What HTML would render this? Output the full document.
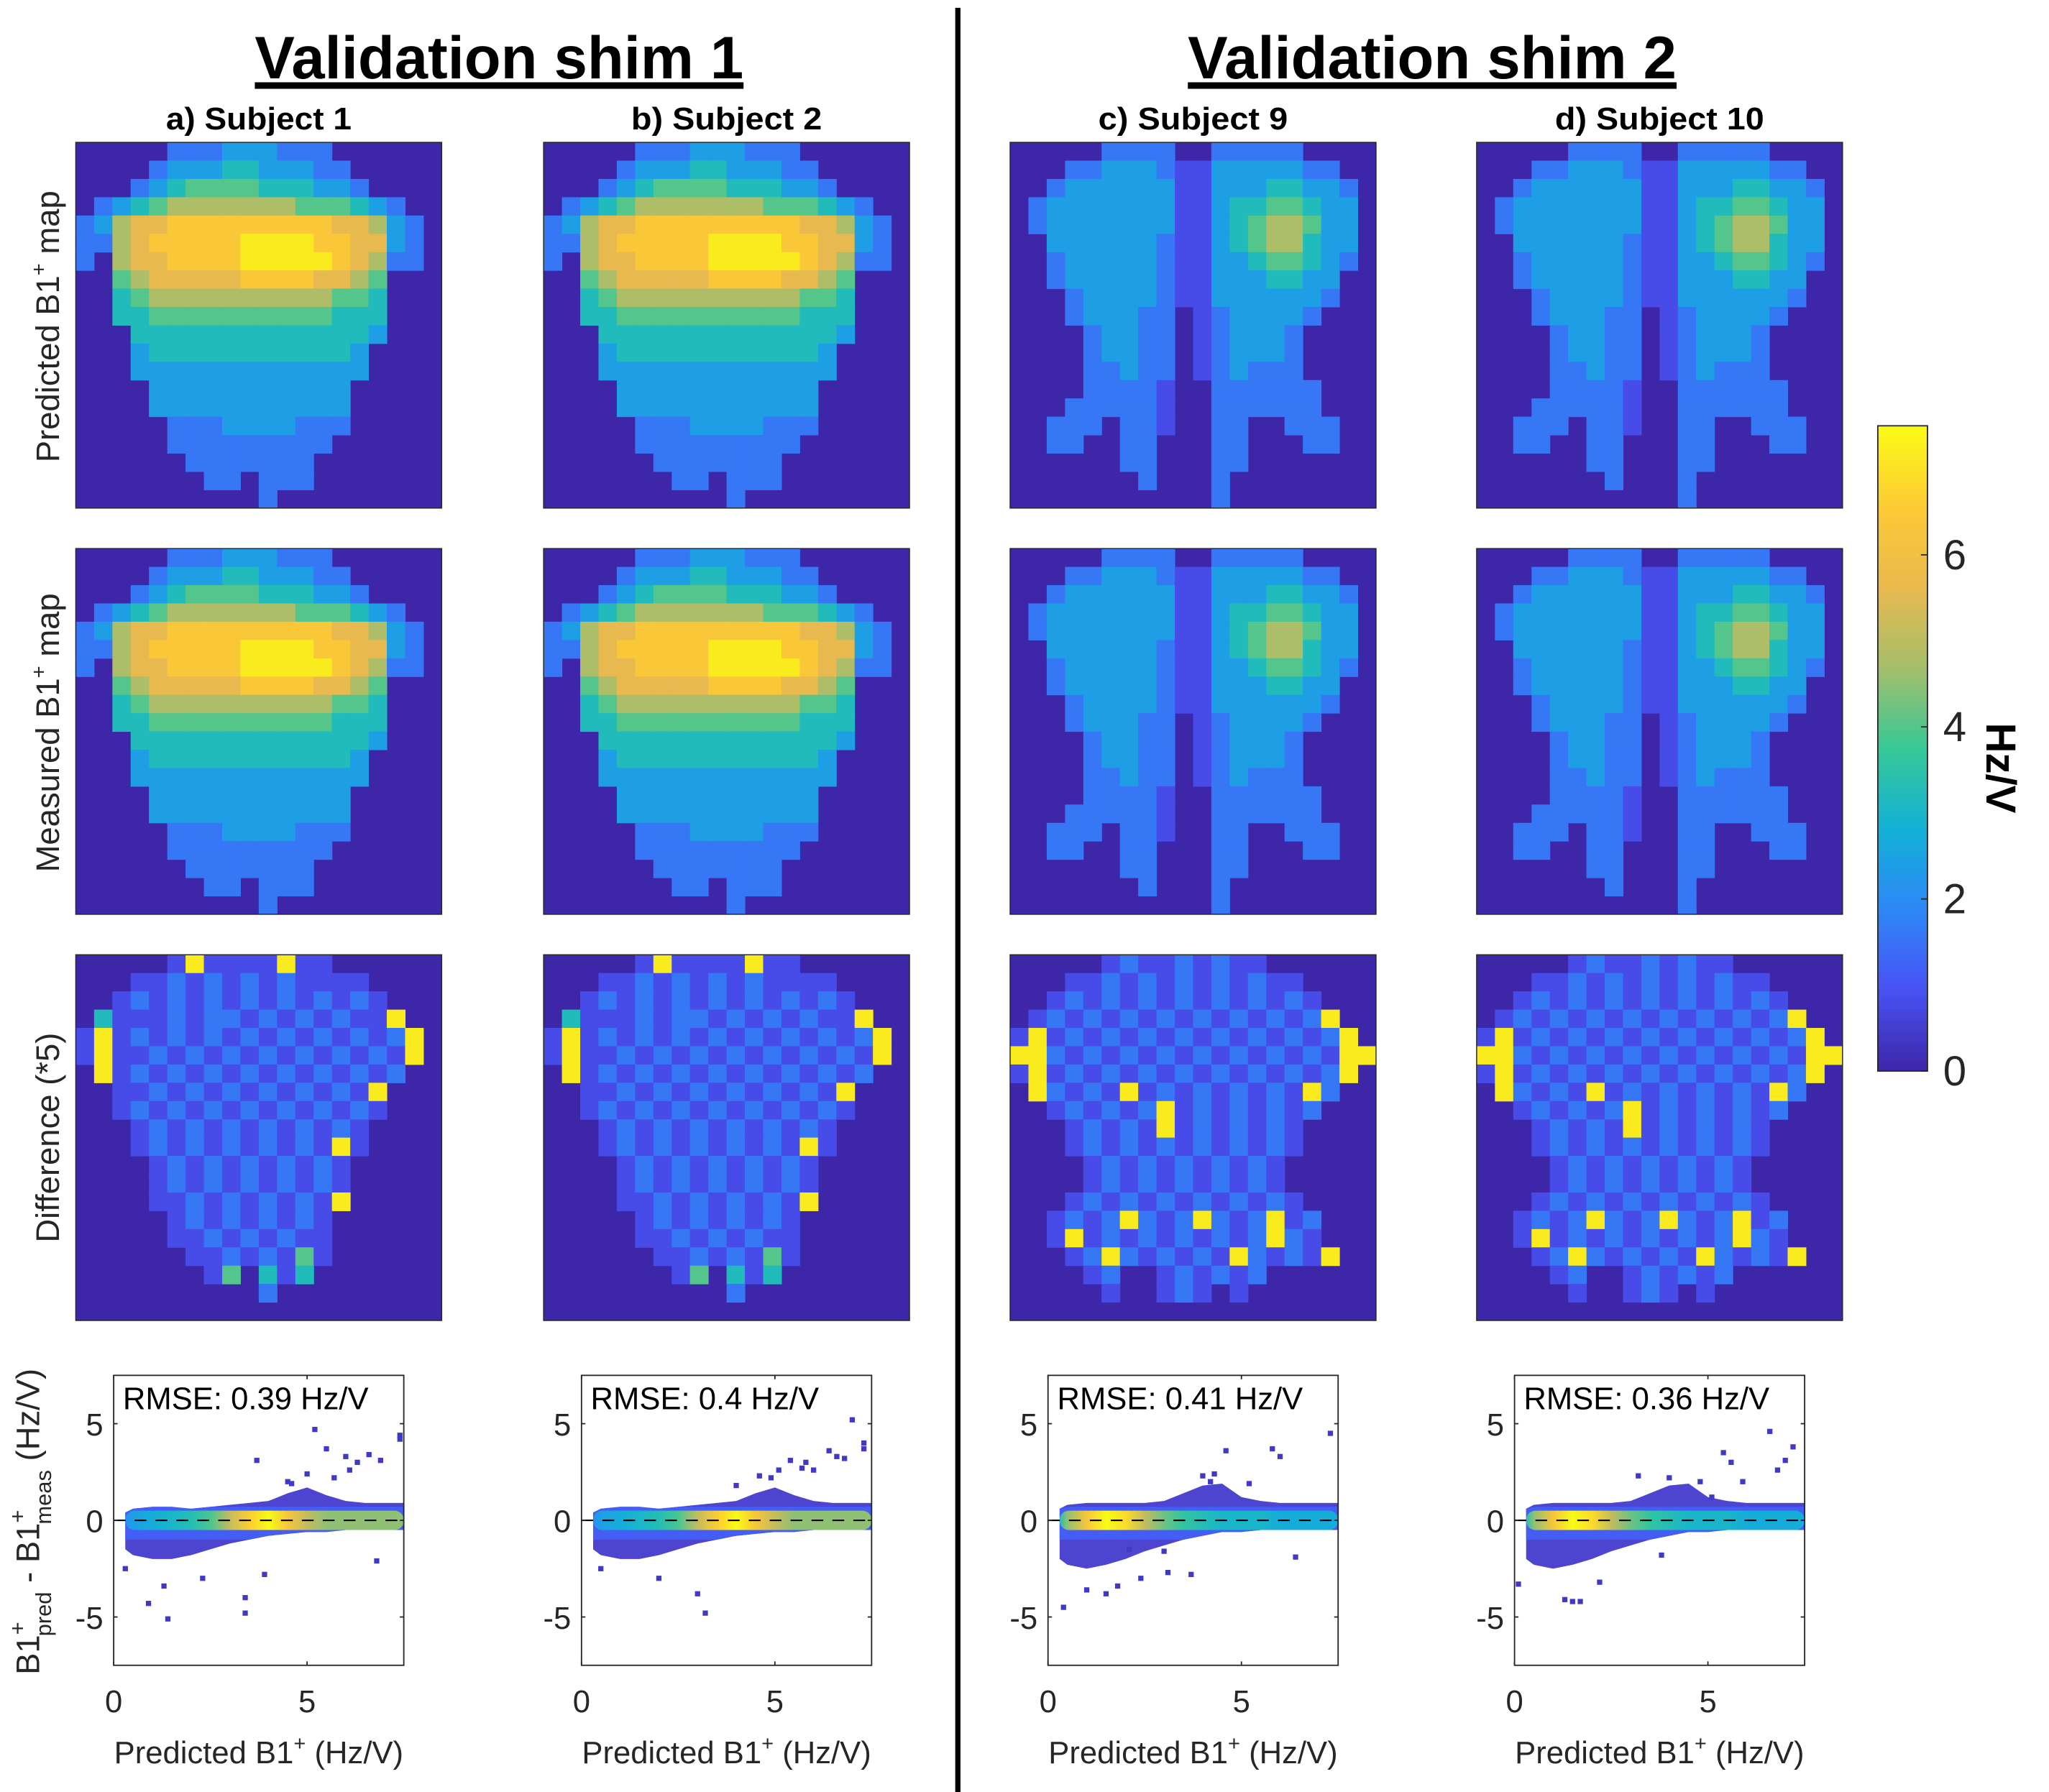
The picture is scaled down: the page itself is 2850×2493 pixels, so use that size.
<!DOCTYPE html>
<html><head><meta charset="utf-8"><style>
html,body{margin:0;padding:0;background:#fff;}
svg{display:block;}
text{font-family:"Liberation Sans",sans-serif;}
</style></head><body>
<svg id="fig" xmlns="http://www.w3.org/2000/svg" width="2850" height="2493" viewBox="0 0 1568 1372" preserveAspectRatio="none">
<rect x="0" y="0" width="1568" height="1372" fill="#fff"/>
<g>
<text x="382" y="60" text-anchor="middle" font-size="46" font-weight="bold" textLength="374" lengthAdjust="spacingAndGlyphs">Validation shim 1</text>
<rect x="195" y="63" width="374" height="5" fill="#000"/></g>
<g>
<text x="1096" y="60" text-anchor="middle" font-size="46" font-weight="bold" textLength="374" lengthAdjust="spacingAndGlyphs">Validation shim 2</text>
<rect x="909" y="63" width="374" height="5" fill="#000"/></g>
<rect x="731" y="6" width="4" height="1366" fill="#000"/>
<text x="198" y="99" text-anchor="middle" font-size="24" font-weight="bold" textLength="142" lengthAdjust="spacingAndGlyphs">a) Subject 1</text>
<text x="556" y="99" text-anchor="middle" font-size="24" font-weight="bold" textLength="146" lengthAdjust="spacingAndGlyphs">b) Subject 2</text>
<text x="913" y="99" text-anchor="middle" font-size="24" font-weight="bold" textLength="145" lengthAdjust="spacingAndGlyphs">c) Subject 9</text>
<text x="1270" y="99" text-anchor="middle" font-size="24" font-weight="bold" textLength="160" lengthAdjust="spacingAndGlyphs">d) Subject 10</text>
<text transform="translate(45,250) rotate(-90)" text-anchor="middle" font-size="25" fill="#262626">Predicted B1<tspan dy="-10" font-size="16">+</tspan><tspan dy="10"> map</tspan></text>
<text transform="translate(45,561) rotate(-90)" text-anchor="middle" font-size="25" fill="#262626">Measured B1<tspan dy="-10" font-size="16">+</tspan><tspan dy="10"> map</tspan></text>
<text transform="translate(45,871) rotate(-90)" text-anchor="middle" font-size="25" fill="#262626">Difference (*5)</text>
<text transform="translate(30,1165) rotate(-90)" text-anchor="middle" font-size="25" fill="#262626">B1<tspan dy="-11" font-size="17">+</tspan><tspan dy="20" dx="-11" font-size="17">pred</tspan><tspan dy="-9"> - B1</tspan><tspan dy="-11" font-size="17">+</tspan><tspan dy="20" dx="-11" font-size="17">meas</tspan><tspan dy="-9"> (Hz/V)</tspan></text>
<g id="maps"></g>
<g id="scatters"></g>
<g id="cbar"></g>
</svg>
<script>
const NS="http://www.w3.org/2000/svg";
// ---- data ----
const colX=[58,416,773,1130];
const rowY=[109,420,731];
const cmapMax=7.5;
const colorbarTicks=[0,2,4,6];
const digitScale=0.8; // value per digit
const shim1Map=[
"00000222333222000000",
"00002333443332200000",
"00023455554443320000",
"02345666666655543200",
"23677888888888776320",
"22678888899998877320",
"20677888899999876220",
"00567777788887765000",
"00456666666666554000",
"00445555555555444000",
"00044444444444443000",
"00034444444444430000",
"00033333333333330000",
"00003333333333300000",
"00003333333333300000",
"00000222333322200000",
"00000222222222000000",
"00000022222220000000",
"00000002202220000000",
"00000000002000000000"];
const shim2Map=[
"00000222200222220000",
"00022333211333332200",
"00233333311333443320",
"02333333311344554330",
"02333333311345665330",
"00333333211345664330",
"00233333211334554320",
"00233333211333443300",
"00023333211333333200",
"00023332201233332000",
"00002332201233320000",
"00002332201233320000",
"00002232201232220000",
"00002222100222222000",
"00022222100222222000",
"00222022100220022200",
"00220022000220002200",
"00000022000220000000",
"00000002000200000000",
"00000000000200000000"];
const diff1Map=[
"00000191111911000000",
"00011212121211110000",
"00121212121212121000",
"04111212212121211900",
"19121212121212121290",
"19112121212121212190",
"09121212121212121200",
"00112121212121219000",
"00121212121212121000",
"00012121212121210000",
"00012121212121910000",
"00001212121212100000",
"00001212121212100000",
"00001121212121900000",
"00000121212121000000",
"00000112121211000000",
"00000011212151000000",
"00000001504140000000",
"00000000002000000000",
"00000000000000000000"];
const diff2Map=[
"00000121121211000000",
"00011212121212110000",
"00121212121212121000",
"01212121212121212900",
"19121212121212121290",
"99212121212121212199",
"19121212121212121290",
"09212191212121219200",
"00121212912121212000",
"00012121912121210000",
"00012121212121210000",
"00001212121212100000",
"00001212121212100000",
"00012121212121210000",
"00121292129212912000",
"00191212121212921000",
"00012921212192121900",
"00001200121212000000",
"00000100121010000000",
"00000000000000000000"];
const panelMaps=[[shim1Map,shim1Map,diff1Map],[shim1Map,shim1Map,diff1Map],[shim2Map,shim2Map,diff2Map],[shim2Map,shim2Map,diff2Map]];
// scatter data
const rmseValues=["0.39","0.4","0.41","0.36"];
const xTicks=[0,5];
const yTicks=[-5,0,5];
const binX=[0.3,0.5,1,1.5,2,2.5,3,3.5,4,4.5,5,5.5,6,6.5,7,7.5];
const upperA=[0.4,0.6,0.7,0.7,0.6,0.7,0.8,0.9,1.0,1.4,1.7,1.3,1.0,0.9,0.9,0.9];
const lowerA=[-1.5,-1.8,-2.0,-2.0,-1.8,-1.5,-1.2,-1.0,-0.8,-0.7,-0.6,-0.6,-0.5,-0.5,-0.5,-0.5];
const densA=[0.1,0.15,0.2,0.25,0.3,0.4,0.6,0.85,1.0,0.8,0.6,0.5,0.5,0.5,0.5,0.5];
const upperC=[0.6,0.8,0.9,0.9,0.9,0.9,1.0,1.4,1.8,1.9,1.2,1.0,0.9,0.9,0.9,0.9];
const lowerC=[-2.0,-2.3,-2.5,-2.3,-2.0,-1.6,-1.3,-1.0,-0.8,-0.6,-0.6,-0.5,-0.5,-0.5,-0.5,-0.5];
const densC=[0.3,0.5,0.8,1.0,0.9,0.6,0.45,0.35,0.3,0.25,0.25,0.25,0.2,0.2,0.2,0.2];
const outX_A=[0.9,1.4,1.3,3.4,3.4,3.7,4.5,5.2,5.5,5.7,6.0,6.3,6.6,6.9,7.4,7.4,5.0,4.6,6.1,2.3,0.3,6.8,3.9];
const outY_A=[-4.3,-5.1,-3.4,-4.0,-4.8,3.1,2.0,4.7,3.7,2.2,3.3,3.0,3.4,3.1,4.4,4.2,2.4,1.9,2.6,-3.0,-2.5,-2.1,-2.8];
const outX_B=[3.0,3.2,4.0,4.6,5.1,5.4,5.8,6.0,6.4,6.6,7.0,7.3,7.3,4.9,2.0,0.5,5.7,6.8];
const outY_B=[-3.8,-4.8,1.8,2.3,2.6,3.1,3.0,2.6,3.6,3.3,5.2,4.0,3.7,2.2,-3.0,-2.5,2.7,3.2];
const outX_C=[0.4,1.0,1.5,1.8,2.4,3.1,3.7,4.2,4.3,4.6,5.8,6.0,7.3,4.0,3.0,2.1,5.2,6.4];
const outY_C=[-4.5,-3.6,-3.8,-3.4,-3.0,-2.7,-2.8,2.0,2.4,3.6,3.7,3.3,4.5,2.3,-1.6,-1.5,1.9,-1.9];
const outX_D=[1.3,1.5,1.7,0.1,2.2,3.2,4.0,5.4,5.6,5.9,6.6,6.8,7.0,7.2,4.8,3.8,5.1];
const outY_D=[-4.1,-4.2,-4.2,-3.3,-3.2,2.3,2.2,3.5,3.0,2.0,4.6,2.6,3.1,3.8,2.0,-1.8,1.2];
const scatterSets=[[upperA,lowerA,densA,outX_A,outY_A],[upperA,lowerA,densA,outX_B,outY_B],[upperC,lowerC,densC,outX_C,outY_C],[upperC,lowerC,densC,outX_D,outY_D]];
// ---- colormap ----
const parulaStops=[[0,[62,38,168]],[0.125,[72,82,244]],[0.25,[46,135,247]],[0.375,[18,177,214]],[0.5,[55,200,151]],[0.625,[165,190,107]],[0.75,[233,185,78]],[0.875,[253,202,52]],[1,[249,251,21]]];
function parula(t){t=Math.max(0,Math.min(1,t));for(let i=1;i<parulaStops.length;i++){if(t<=parulaStops[i][0]){const a=parulaStops[i-1],b=parulaStops[i];const f=(t-a[0])/(b[0]-a[0]);const c=a[1].map((v,k)=>Math.round(v+(b[1][k]-v)*f));return `rgb(${c[0]},${c[1]},${c[2]})`;}}return "rgb(249,251,21)";}
function mk(tag,attrs,parent){const e=document.createElementNS(NS,tag);for(const k in attrs)e.setAttribute(k,attrs[k]);parent.appendChild(e);return e;}
// ---- heatmaps ----
const mapsG=document.getElementById('maps');
const P=280,N=20,cs=P/N;
const rowNames=['predicted','measured','difference'];
for(let c=0;c<4;c++){for(let r=0;r<3;r++){
 const g=mk('g',{},mapsG);
 
 
 const x0=colX[c],y0=rowY[r];
 mk('rect',{x:x0,y:y0,width:P,height:P,fill:parula(0)},g);
 const m=panelMaps[c][r];
 for(let i=0;i<N;i++)for(let j=0;j<N;j++){const d=+m[i][j];if(d===0)continue;
  const cell=mk('rect',{x:x0+j*cs,y:y0+i*cs,width:cs+0.3,height:cs+0.3,fill:parula(d*digitScale/cmapMax)},g);
  
  }
 mk('rect',{x:x0,y:y0,width:P,height:P,fill:'none',stroke:'#262626','stroke-width':0.8},g);
}}
// ---- colorbar ----
const cb=document.getElementById('cbar');
const cbX=1437,cbW=38,cbTop=326,cbBot=820;
const cy=v=>cbBot-(v/cmapMax)*(cbBot-cbTop);
const defs=mk('defs',{},cb);
const lg=mk('linearGradient',{id:'cbg',x1:0,y1:1,x2:0,y2:0},defs);
parulaStops.forEach(s=>mk('stop',{offset:s[0],'stop-color':parula(s[0])},lg));
const cbr=mk('rect',{x:cbX,y:cbTop,width:cbW,height:cbBot-cbTop,fill:'url(#cbg)',stroke:'#262626','stroke-width':1},cb);


colorbarTicks.forEach(v=>{mk('line',{x1:cbX+cbW-5,x2:cbX+cbW,y1:cy(v),y2:cy(v),stroke:'#262626'},cb);
 const t=mk('text',{x:cbX+cbW+12,y:cy(v)+11,'font-size':32,fill:'#262626'},cb);t.textContent=v;
 
 });
const cbl=mk('text',{transform:'translate(1520,588) rotate(90)','text-anchor':'middle','font-size':32,'font-weight':'bold'},cb);
cbl.textContent='Hz/V';


// ---- scatters ----
const sg=document.getElementById('scatters');
const bxOff=29,bW=222,bTop=1053,bBot=1275;
for(let c=0;c<4;c++){
 const L=colX[c]+bxOff,R=L+bW;
 const sx=v=>L+v/7.5*bW, sy=v=>(bTop+bBot)/2-v/7.5*(bBot-bTop)/2;
 const g=mk('g',{},sg);
 
 
 mk('rect',{x:L,y:bTop,width:bW,height:bBot-bTop,fill:'#fff'},g);
 const [up,lo,dens,ox,oy]=scatterSets[c];
 let pts=binX.map((x,i)=>sx(x)+','+sy(up[i])).concat(binX.slice().reverse().map((x,k)=>sx(x)+','+sy(lo[binX.length-1-k])));
 const cloud=mk('polygon',{points:pts.join(' '),fill:parula(0.06),opacity:0.95},g);
 
 
 pts=binX.map((x,i)=>sx(x)+','+sy(Math.min(up[i],0.7))).concat(binX.slice().reverse().map((x,k)=>sx(x)+','+sy(Math.max(lo[binX.length-1-k],-1.0))));
 mk('polygon',{points:pts.join(' '),fill:parula(0.15)},g);
 const gid='core'+c;
 const cg=mk('linearGradient',{id:gid,x1:0,y1:0,x2:1,y2:0},defs);
 binX.forEach((x,i)=>mk('stop',{offset:(x-binX[0])/(binX[binX.length-1]-binX[0]),'stop-color':parula(0.2+dens[i]*0.8)},cg));
 const core=mk('rect',{x:sx(binX[0]),y:sy(0.5),width:sx(binX[binX.length-1])-sx(binX[0]),height:sy(-0.5)-sy(0.5),rx:7,fill:'url(#'+gid+')'},g);
 
 
 ox.forEach((x,i)=>{const p=mk('rect',{x:sx(x)-2,y:sy(oy[i])-2,width:4,height:4,fill:parula(0.05)},g);
  
  });
 mk('line',{x1:L,x2:R,y1:sy(0),y2:sy(0),stroke:'#000','stroke-width':1.2,'stroke-dasharray':'9,7'},g);
 mk('rect',{x:L,y:bTop,width:bW,height:bBot-bTop,fill:'none',stroke:'#262626','stroke-width':1},g);
 yTicks.forEach(v=>{mk('line',{x1:L,x2:L+3,y1:sy(v),y2:sy(v),stroke:'#262626'},g);mk('line',{x1:R-3,x2:R,y1:sy(v),y2:sy(v),stroke:'#262626'},g);
  const t=mk('text',{x:L-8,y:sy(v)+9,'text-anchor':'end','font-size':24,fill:'#262626'},g);t.textContent=v;
  
  });
 xTicks.forEach(v=>{mk('line',{x1:sx(v),x2:sx(v),y1:bBot,y2:bBot-3,stroke:'#262626'},g);mk('line',{x1:sx(v),x2:sx(v),y1:bTop,y2:bTop+3,stroke:'#262626'},g);
  const t=mk('text',{x:sx(v),y:1311,'text-anchor':'middle','font-size':24,fill:'#262626'},g);t.textContent=v;
  
  });
 const rm=mk('text',{x:L+7,y:bTop+26,'font-size':24,fill:'#000'},g);rm.textContent='RMSE: '+rmseValues[c]+' Hz/V';
 
 
 const xl=mk('text',{x:L+bW/2,y:1350,'text-anchor':'middle','font-size':24,fill:'#262626'},g);
 xl.innerHTML='Predicted B1<tspan dy="-10" font-size="16">+</tspan><tspan dy="10"> (Hz/V)</tspan>';
 
 
}
</script>
</body></html>
